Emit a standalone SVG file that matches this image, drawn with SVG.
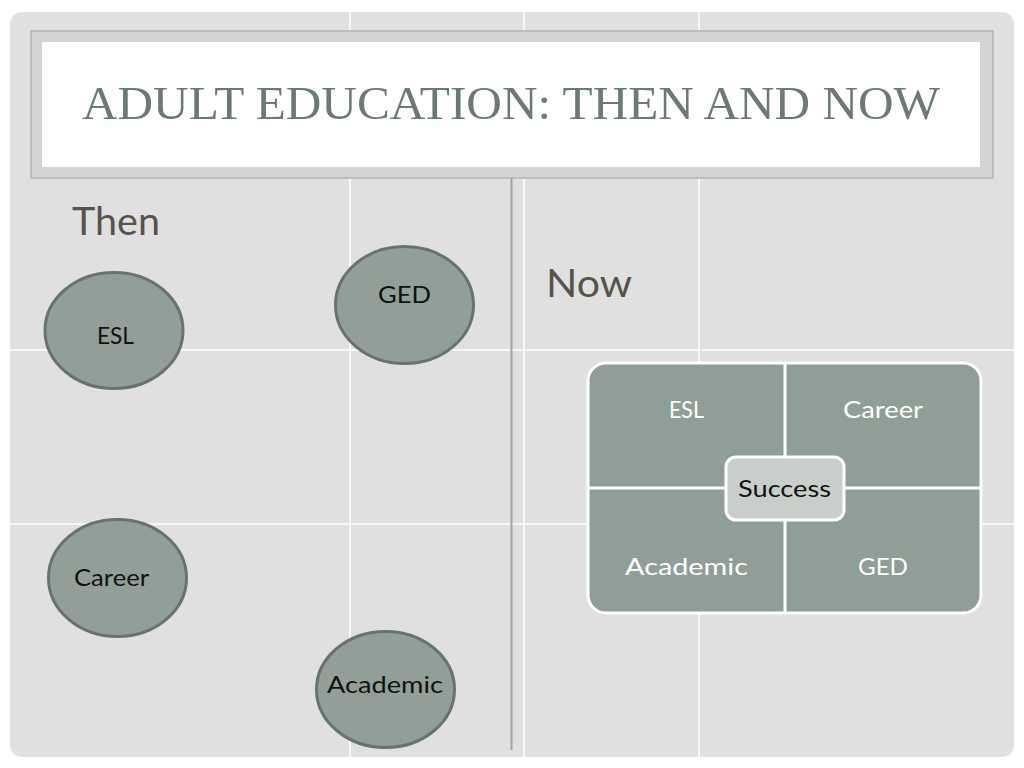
<svg xmlns="http://www.w3.org/2000/svg" width="1024" height="768" viewBox="0 0 1024 768">
<style>
.oval{fill:#919f98;stroke:#69736d;stroke-width:3}
.olbl{font-family:"Lato","Noto Sans",sans-serif;font-size:24px;fill:#111;text-anchor:middle}
.qlbl{font-family:"Lato","Noto Sans",sans-serif;font-size:23px;fill:#ffffff;text-anchor:middle}
.head{font-family:"Lato","Noto Sans",sans-serif;font-size:39px;fill:#57534a}
.grid{stroke:#ffffff;stroke-width:1.5}
</style>
<rect x="0" y="0" width="1024" height="768" fill="#ffffff"/>
<rect x="10" y="12" width="1004" height="745" rx="12" fill="#e0e0e0"/>
<g id="gridlines">
<line class="grid" x1="350" y1="12" x2="350" y2="757"/>
<line class="grid" x1="524" y1="12" x2="524" y2="757"/>
<line class="grid" x1="699" y1="12" x2="699" y2="757"/>
<line class="grid" x1="10" y1="350" x2="1014" y2="350"/>
<line class="grid" x1="10" y1="524" x2="1014" y2="524"/>
</g>
<g id="title">
<rect x="31" y="31" width="962" height="147" fill="#d4d4d4" stroke="#b3b3b3" stroke-width="1.5"/>
<rect x="42" y="42" width="938" height="125" fill="#ffffff"/>
<text x="511" y="119" text-anchor="middle" font-family="Liberation Serif, serif" font-size="47" fill="#6b7b72" textLength="858" lengthAdjust="spacingAndGlyphs">ADULT EDUCATION: THEN AND NOW</text>
</g>
<line x1="511.5" y1="178" x2="511.5" y2="750" stroke="#a3a3a3" stroke-width="2"/>
<text class="head" x="72" y="235" textLength="88" lengthAdjust="spacingAndGlyphs">Then</text>
<text class="head" x="546" y="297" textLength="86" lengthAdjust="spacingAndGlyphs">Now</text>
<g id="then-esl"><ellipse class="oval" cx="114" cy="330.5" rx="69" ry="58"/><text class="olbl" x="115.5" y="344" textLength="37" lengthAdjust="spacingAndGlyphs">ESL</text></g>
<g id="then-ged"><ellipse class="oval" cx="404.5" cy="305" rx="69" ry="58.5"/><text class="olbl" x="404.5" y="303" textLength="53" lengthAdjust="spacingAndGlyphs">GED</text></g>
<g id="then-career"><ellipse class="oval" cx="117.5" cy="578" rx="69" ry="58.5"/><text class="olbl" x="111.5" y="586" textLength="75" lengthAdjust="spacingAndGlyphs">Career</text></g>
<g id="then-academic"><ellipse class="oval" cx="385.5" cy="689.5" rx="69" ry="58"/><text class="olbl" x="385" y="693" textLength="116" lengthAdjust="spacingAndGlyphs">Academic</text></g>
<g id="matrix">
<rect x="588" y="363" width="393" height="250" rx="18" fill="#8f9e97" stroke="#ffffff" stroke-width="3"/>
<line x1="785" y1="363" x2="785" y2="613" stroke="#ffffff" stroke-width="3"/>
<line x1="588" y1="488" x2="981" y2="488" stroke="#ffffff" stroke-width="3"/>
<text class="qlbl" x="686.5" y="418" textLength="35" lengthAdjust="spacingAndGlyphs">ESL</text>
<text class="qlbl" x="883" y="418" textLength="80" lengthAdjust="spacingAndGlyphs">Career</text>
<text class="qlbl" x="686.5" y="575" textLength="123" lengthAdjust="spacingAndGlyphs">Academic</text>
<text class="qlbl" x="883" y="575" textLength="50" lengthAdjust="spacingAndGlyphs">GED</text>
</g>
<g id="success">
<rect x="726" y="457" width="118" height="63" rx="10" fill="#c8cfcb" stroke="#ffffff" stroke-width="3"/>
<text class="olbl" x="784.5" y="497" textLength="93" lengthAdjust="spacingAndGlyphs">Success</text>
</g>
</svg>
